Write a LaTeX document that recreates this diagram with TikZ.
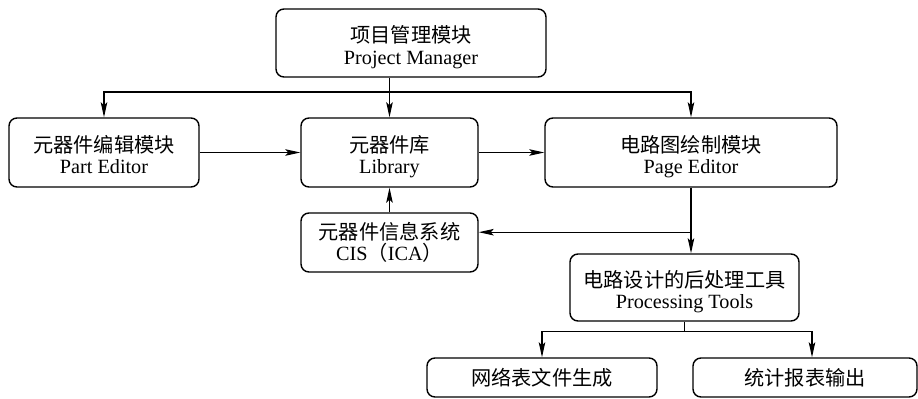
\documentclass[tikz,border=0pt]{standalone}
\usepackage{fontspec}
\setmainfont{Liberation Serif}
\newfontfamily\cjk{Noto Sans CJK SC}
\usetikzlibrary{arrows.meta}

\begin{document}
\begin{tikzpicture}[
 box/.style={draw, line width=0.8pt, rounded corners=0.16cm, align=center, inner sep=0pt, font=\fontsize{11.5}{12.2}\selectfont},
 two/.style={text height=27pt, text depth=3pt},
 arr/.style={line width=0.6pt, -{Stealth[length=3mm,width=1.3mm,inset=0.6mm]}}
]
 \useasboundingbox (0,0) rectangle (18.36,7.96);

 %Boxes
 \node[box, two, minimum width=5.4cm, minimum height=1.36cm] (pm) at (8.22,7.10) {{\cjk 项目管理模块}\\Project Manager};
 \node[box, two, minimum width=3.8cm, minimum height=1.38cm] (part) at (2.08,4.91) {{\cjk 元器件编辑模块}\\Part Editor};
 \node[box, two, minimum width=3.54cm, minimum height=1.38cm] (lib) at (7.79,4.91) {{\cjk 元器件库}\\Library};
 \node[box, two, minimum width=5.84cm, minimum height=1.38cm] (page) at (13.82,4.91) {{\cjk 电路图绘制模块}\\Page Editor};
 \node[box, minimum width=3.54cm, minimum height=1.18cm] (cis) at (7.79,3.11) {{\cjk 元器件信息系统}\\CIS{\cjk （}ICA{\cjk ）}};
 \node[box, two, minimum width=4.58cm, minimum height=1.34cm] (tools) at (13.69,2.21) {{\cjk 电路设计的后处理工具}\\Processing Tools};
 \node[box, minimum width=4.6cm, minimum height=0.78cm] (net) at (10.84,0.41) {\cjk 网络表文件生成};
 \node[box, minimum width=4.48cm, minimum height=0.78cm] (stat) at (16.10,0.41) {\cjk 统计报表输出};

 %Lines
 \coordinate (top) at (7.79,6.12);
 \draw[arr] (pm.south -| lib.north) -- (lib.north);
 \draw[arr] (top) -| (part.north);
 \draw[arr] (top) -| (page.north);
 \draw[arr] (part.east) -- (lib.west);
 \draw[arr] (lib.east) -- (page.west);
 \draw[arr] (cis.north) -- (lib.south);
 \draw[arr] (page.south) -- (page.south |- tools.north);
 \path (page.south) ++(0,-0.89) coordinate (mid);
 \draw[arr] (mid) -- (mid -| cis.east);
 \path (tools.south) ++(0,-0.2) coordinate (fork);
 \draw[line width=0.6pt] (tools.south) -- (fork);
 \draw[arr] (fork) -| (net.north);
 \draw[arr] (fork) -| ([xshift=0.14cm]stat.north);

\end{tikzpicture}
\end{document}
